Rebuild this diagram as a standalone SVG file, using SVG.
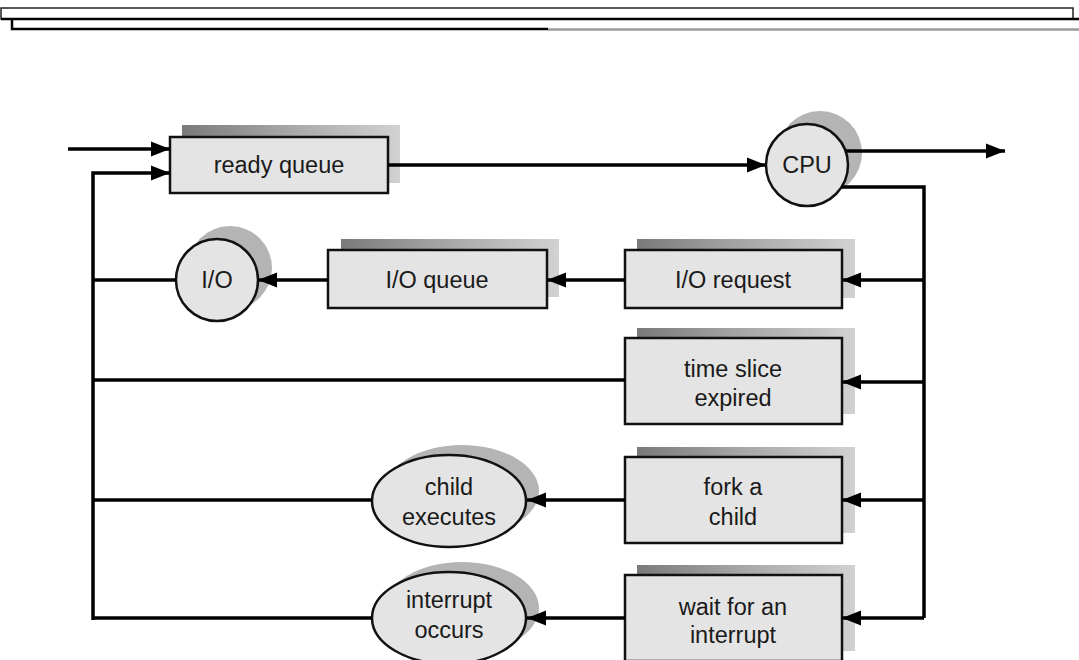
<svg xmlns="http://www.w3.org/2000/svg" width="1079" height="660" viewBox="0 0 1079 660">
  <style>
    .box { fill: #e4e4e4; stroke: #111; stroke-width: 2.5; }
    .shadow { fill: url(#shade); }
    .cshadow { fill: #b4b4b4; }
    .label { font-family: "Liberation Sans", Arial, sans-serif; font-size: 23.5px; fill: #1a1a1a; text-anchor: middle; }
    .wire { fill: none; stroke: #000; stroke-width: 3.5; }
    .arrow { marker-end: url(#head); }
  </style>
  <defs>
    <linearGradient id="shade" x1="0" y1="0" x2="1" y2="0">
      <stop offset="0" stop-color="#7a7a7a"/>
      <stop offset="0.5" stop-color="#a8a8a8"/>
      <stop offset="1" stop-color="#d2d2d2"/>
    </linearGradient>
    <marker id="head" markerUnits="userSpaceOnUse" viewBox="0 0 20 16" markerWidth="20" markerHeight="16" refX="19" refY="8" orient="auto">
      <path d="M0,0.5 L19,8 L0,15.5 Z" fill="#000"/>
    </marker>
  </defs>

  <rect width="1079" height="660" fill="#ffffff"/>

  <!-- header rules -->
  <g id="header">
    <rect x="1" y="8" width="1072" height="11" fill="#fff" stroke="#222" stroke-width="1.5"/>
    <path d="M1,19 H1079" stroke="#000" stroke-width="2.5"/>
    <path d="M12,19 V29 H548" fill="none" stroke="#000" stroke-width="2.5"/>
    <path d="M548,29.5 H1079" stroke="#9a9a9a" stroke-width="2.5"/>
  </g>

  <g id="ready-queue">
    <rect class="shadow" x="182" y="125" width="218" height="58"/>
    <rect class="box" x="170" y="137" width="218" height="56"/>
    <text class="label" x="279" y="173">ready queue</text>
  </g>

  <g id="cpu">
    <circle class="cshadow" cx="820" cy="153" r="42"/>
    <circle class="box" cx="807" cy="165" r="41"/>
    <text class="label" x="807" y="173">CPU</text>
  </g>

  <g id="io-request">
    <rect class="shadow" x="637" y="239" width="218" height="59"/>
    <rect class="box" x="625" y="250" width="217" height="58"/>
    <text class="label" x="733" y="288">I/O request</text>
  </g>

  <g id="io-queue">
    <rect class="shadow" x="341" y="239" width="218" height="58"/>
    <rect class="box" x="328" y="250" width="219" height="58"/>
    <text class="label" x="437" y="288">I/O queue</text>
  </g>

  <g id="io">
    <circle class="cshadow" cx="230" cy="268" r="42"/>
    <circle class="box" cx="217" cy="280" r="41"/>
    <text class="label" x="217" y="288">I/O</text>
  </g>

  <g id="time-slice">
    <rect class="shadow" x="637" y="328" width="218" height="86"/>
    <rect class="box" x="625" y="338" width="217" height="86"/>
    <text class="label" x="733" y="377">time slice</text>
    <text class="label" x="733" y="406">expired</text>
  </g>

  <g id="fork-child">
    <rect class="shadow" x="637" y="447" width="218" height="86"/>
    <rect class="box" x="625" y="457" width="217" height="86"/>
    <text class="label" x="733" y="495">fork a</text>
    <text class="label" x="733" y="525">child</text>
  </g>

  <g id="child-executes">
    <ellipse class="cshadow" cx="462" cy="491" rx="77" ry="46"/>
    <ellipse class="box" cx="449" cy="501" rx="77" ry="46"/>
    <text class="label" x="449" y="495">child</text>
    <text class="label" x="449" y="525">executes</text>
  </g>

  <g id="wait-interrupt">
    <rect class="shadow" x="637" y="565" width="218" height="86"/>
    <rect class="box" x="625" y="575" width="217" height="86"/>
    <text class="label" x="733" y="615">wait for an</text>
    <text class="label" x="733" y="643">interrupt</text>
  </g>

  <g id="interrupt-occurs">
    <ellipse class="cshadow" cx="462" cy="608" rx="77" ry="46"/>
    <ellipse class="box" cx="449" cy="618" rx="77" ry="46"/>
    <text class="label" x="449" y="608">interrupt</text>
    <text class="label" x="449" y="638">occurs</text>
  </g>

  <!-- connectors, drawn over the node shadows -->
  <g id="connectors">
    <path class="wire arrow" d="M68,149 H170"/>
    <path class="wire arrow" d="M93,620 V173 H170"/>
    <path class="wire arrow" d="M388,165 H766"/>
    <path class="wire arrow" d="M846,151 H1005"/>
    <path class="wire" d="M841,187 H924 V618"/>
    <path class="wire arrow" d="M924,280 H842"/>
    <path class="wire arrow" d="M924,382 H842"/>
    <path class="wire arrow" d="M924,500 H842"/>
    <path class="wire arrow" d="M924,618 H842"/>
    <path class="wire arrow" d="M625,280 H547"/>
    <path class="wire arrow" d="M328,280 H258"/>
    <path class="wire" d="M176,280 H93"/>
    <path class="wire" d="M625,380 H93"/>
    <path class="wire arrow" d="M625,500 H527"/>
    <path class="wire" d="M372,500 H93"/>
    <path class="wire arrow" d="M625,618 H527"/>
    <path class="wire" d="M372,618 H93"/>
  </g>
</svg>
